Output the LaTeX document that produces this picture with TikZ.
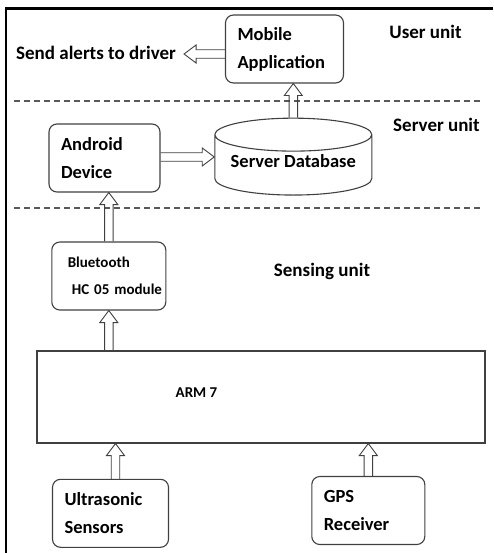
\documentclass[tikz,border=0pt]{standalone}
\usepackage{fontspec}
\setmainfont{Carlito}
\usetikzlibrary{shapes.geometric, calc}

\tikzset{
  unitbox/.style={draw=black!75, line width=1.1pt, rounded corners=8pt, align=left,
    inner xsep=12pt, font=\bfseries\fontsize{18.5}{28}\selectfont},
  unitlabel/.style={font=\bfseries\fontsize{19}{23}\selectfont},
  smalltext/.style={font=\bfseries\fontsize{15}{27}\selectfont},
  sepline/.style={draw=black!65, line width=1.3pt, dash pattern=on 6pt off 4pt},
  hollow/.style={draw=black!75, line width=0.9pt, sharp corners, line join=miter,
    to path={
      ($(\tikztostart)!4.25pt!-90:(\tikztotarget)$)
      -- ($(\tikztotarget)!12pt!(\tikztostart)!4.25pt!90:(\tikztostart)$)
      -- ($(\tikztotarget)!12pt!(\tikztostart)!9pt!90:(\tikztostart)$)
      -- (\tikztotarget)
      -- ($(\tikztotarget)!12pt!(\tikztostart)!9pt!-90:(\tikztostart)$)
      -- ($(\tikztotarget)!12pt!(\tikztostart)!4.25pt!-90:(\tikztostart)$)
      -- ($(\tikztostart)!4.25pt!90:(\tikztotarget)$)}},
}

\begin{document}
\begin{tikzpicture}[x=1pt, y=-1pt]
\useasboundingbox (0,0) rectangle (493,553);

% frame and unit borders
\draw[line width=2.2pt] (6,553) -- (6,8.5) -- (493,8.5);
\draw[sepline] (14,101) -- (482,101);
\draw[sepline] (14,208) -- (482,208);

% User unit
\node[unitbox, text width=94pt, minimum height=68pt] (mob) at (284.5,49) {Mobile\\Application};
\node[unitlabel, inner xsep=8pt] (alerts) at (96,53) {Send alerts to driver};
\node[unitlabel] (userlbl) at (425.5,32) {User unit};

% Server unit
\node[unitbox, text width=87pt, minimum height=68pt] (andr) at (104.5,158) {Android\\Device};
\node[cylinder, shape border rotate=90, aspect=0.25, draw=black!75, line width=1.1pt,
  minimum width=157pt, minimum height=61pt, text depth=12pt,
  font=\bfseries\fontsize{18.5}{28}\selectfont]
  (db) at (293.3,167.5) {Server Database};
\node[unitlabel] (serverlbl) at (436.5,125) {Server unit};

% Sensing unit
\node[unitbox, smalltext, inner xsep=16pt, text width=82pt, minimum height=68pt] (blt) at (108.8,276)
  {\mbox{Bluetooth}\\\mbox{\hspace*{4pt}HC 05 module}};
\node[unitlabel] (senselbl) at (322,271) {Sensing unit};
\node[draw=black!75, line width=1.1pt, minimum width=448pt, minimum height=92pt] (arm) at (261,397) {};
\node[smalltext] (armtxt) at (196.5,393) {ARM 7};
\node[unitbox, text width=92pt, minimum height=68pt] (ultra) at (110.5,513.3) {Ultrasonic\\Sensors};
\node[unitbox, text width=89pt, minimum height=68pt] (gps) at (368.3,510.5) {GPS\\Receiver};

% data flow
\coordinate (mobw) at ([yshift=-5pt]mob.west);
\coordinate (ultran) at ([xshift=5pt]ultra.north);
\coordinate (andre) at ([yshift=1pt]andr.east);
\draw[hollow] (mobw) to (mobw -| alerts.east);
\draw[hollow] (db.north) to (db.north |- mob.south);
\draw[hollow] (andre) to (andre -| db.west);
\draw[hollow] (blt.north) to (blt.north |- andr.south);
\draw[hollow] (blt.south |- arm.north) to (blt.south);
\draw[hollow] (ultran) to (ultran |- arm.south);
\draw[hollow] (gps.north) to (gps.north |- arm.south);

\end{tikzpicture}
\end{document}
